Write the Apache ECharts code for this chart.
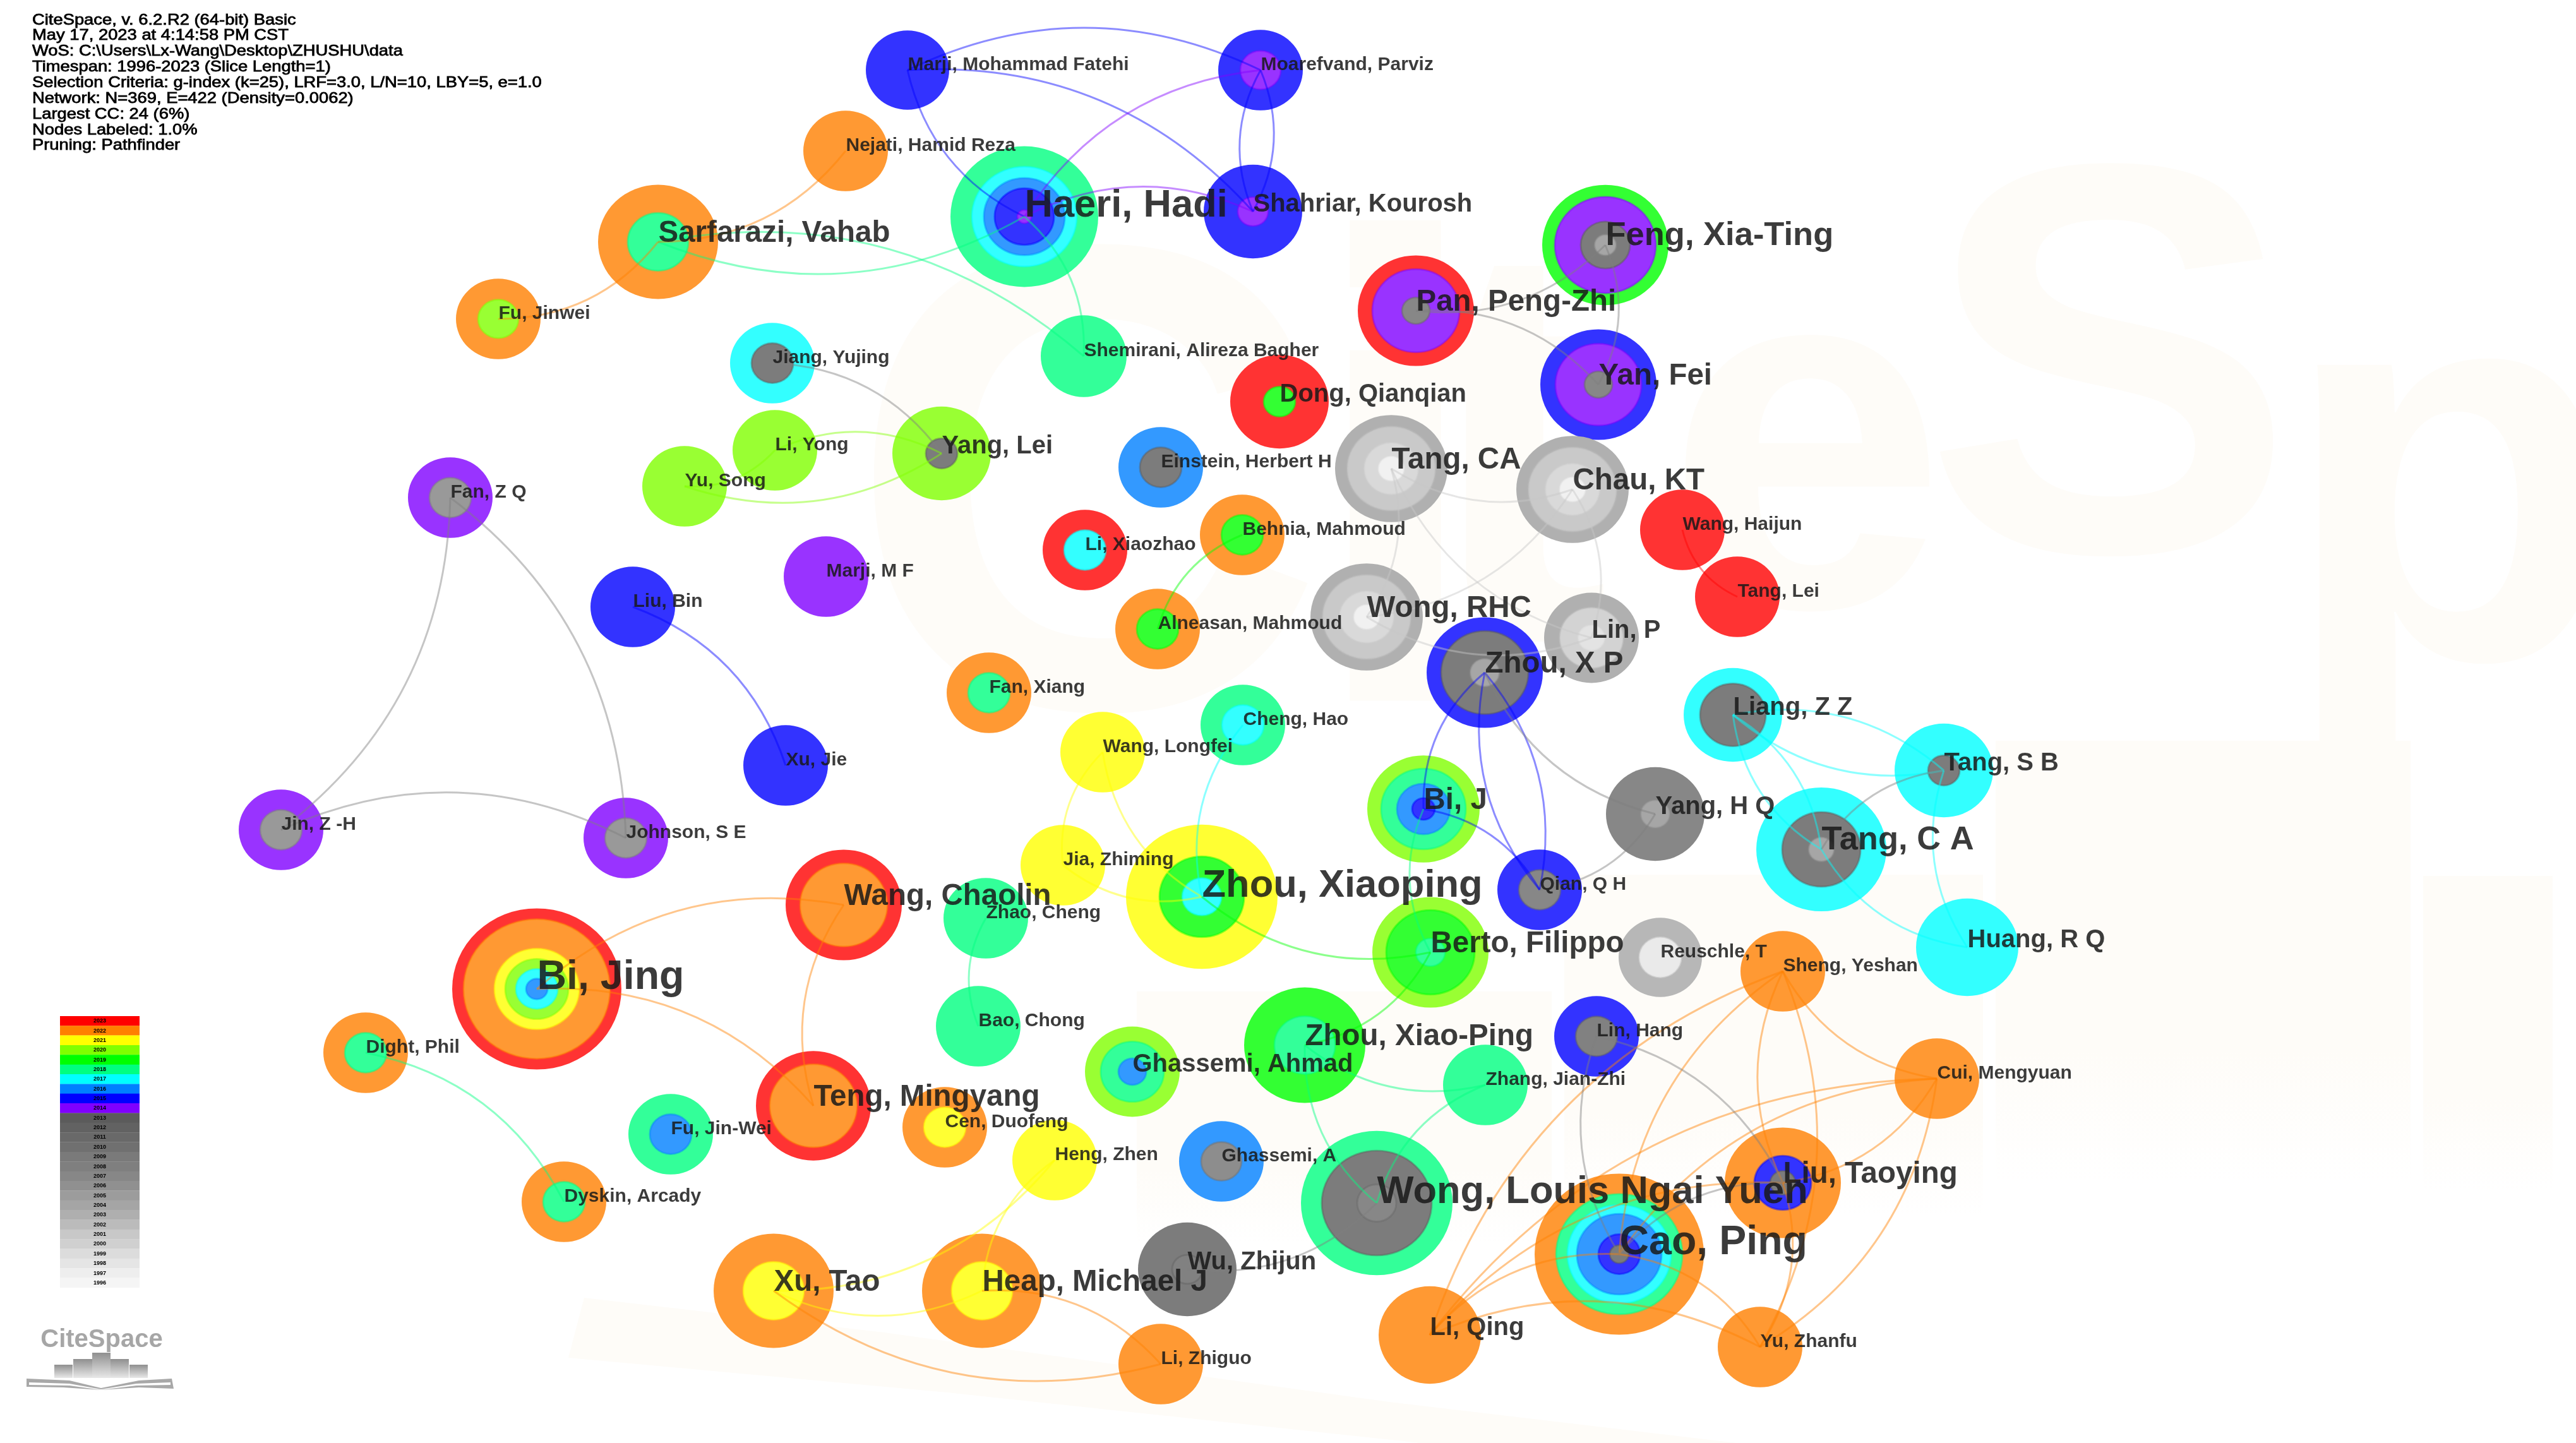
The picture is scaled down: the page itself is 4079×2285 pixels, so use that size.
<!DOCTYPE html>
<html>
<head>
<meta charset="utf-8">
<style>html,body{margin:0;padding:0;background:#fff}#c{width:4079px;height:2285px}</style>
<script src="https://cdn.jsdelivr.net/npm/echarts@6/dist/echarts.min.js"></script>
</head>
<body>
<div id="c"></div>
<script>
// ---------- legend ----------
const years = [2023,2022,2021,2020,2019,2018,2017,2016,2015,2014,2013,2012,2011,2010,2009,2008,2007,2006,2005,2004,2003,2002,2001,2000,1999,1998,1997,1996];
const yearColors = ['#ff0000','#ff8000','#ffff00','#80ff00','#00ff00','#00ff80','#00ffff','#0080ff','#0000ff','#8000ff','#5b5b5b','#626262','#696969','#707070','#7a7a7a','#7f7f7f','#878787','#909090','#9c9c9c','#a5a5a5','#afafaf','#bbbbbb','#c8c8c8','#d0d0d0','#dcdcdc','#e5e5e5','#eeeeee','#f5f5f5'];

// ---------- network: author, position on the map ----------
const authors = ['Fan, Z Q','Jin, Z -H','Johnson, S E','Liu, Bin','Xu, Jie','Marji, M F','Jiang, Yujing','Li, Yong','Yu, Song','Yang, Lei','Fu, Jinwei','Sarfarazi, Vahab','Nejati, Hamid Reza','Marji, Mohammad Fatehi','Moarefvand, Parviz','Shahriar, Kourosh','Haeri, Hadi','Shemirani, Alireza Bagher','Dong, Qianqian','Pan, Peng-Zhi','Feng, Xia-Ting','Yan, Fei','Einstein, Herbert H','Li, Xiaozhao','Behnia, Mahmoud','Alneasan, Mahmoud','Fan, Xiang','Tang, CA','Chau, KT','Wong, RHC','Lin, P','Wang, Haijun','Tang, Lei','Zhou, X P','Cheng, Hao','Wang, Longfei','Jia, Zhiming','Zhou, Xiaoping','Bi, J','Qian, Q H','Yang, H Q','Liang, Z Z','Tang, S B','Tang, C A','Huang, R Q','Berto, Filippo','Reuschle, T','Sheng, Yeshan','Zhao, Cheng','Bao, Chong','Wang, Chaolin','Bi, Jing','Dight, Phil','Teng, Mingyang','Fu, Jin-Wei','Dyskin, Arcady','Cen, Duofeng','Ghassemi, Ahmad','Zhou, Xiao-Ping','Zhang, Jian-Zhi','Lin, Hang','Cui, Mengyuan','Heng, Zhen','Ghassemi, A','Xu, Tao','Heap, Michael J','Li, Zhiguo','Wu, Zhijun','Wong, Louis Ngai Yuen','Liu, Taoying','Cao, Ping','Li, Qing','Yu, Zhanfu'];
const authorX = [713,445,991,1002,1244,1308,1223,1227,1084,1491,789,1042,1339,1437,1996,1984,1622,1716,2026,2242,2542,2531,1838,1718,1967,1833,1566,2203,2490,2164,2520,2664,2751,2351,1968,1746,1683,1903,2254,2438,2621,2744,3078,2884,3115,2265,2629,2823,1561,1549,1336,850,579,1288,1062,893,1496,1793,2066,2352,2528,3067,1670,1934,1225,1555,1838,1880,2180,2823,2564,2264,2787];
const authorY = [788,1314,1327,961,1212,913,575,713,770,718,505,383,239,111,111,335,343,564,636,492,388,609,740,871,847,996,1097,742,775,977,1010,839,945,1065,1148,1191,1370,1420,1281,1409,1289,1132,1220,1345,1500,1508,1516,1538,1454,1625,1433,1566,1667,1751,1796,1903,1785,1697,1655,1718,1641,1708,1837,1839,2044,2044,2160,2010,1905,1873,1986,2114,2133];

// ---------- tree rings: years active, outermost first ----------
const ringYears = [[2014,2008],[2014,2008],[2014,2008],[2015],[2015],[2014],[2017,2013],[2020],[2020],[2020,2013],[2022,2020],[2022,2018],[2022],[2015],[2015,2014],[2015,2014],[2018,2017,2016,2015,2014],[2018],[2023,2019],[2023,2014,2011],[2019,2014,2013,2006],[2015,2014,2011],[2016,2013],[2023,2017],[2022,2019],[2022,2019],[2022,2018],[2005,2002,2000,1997],[2005,2002,2000,1997],[2005,2002,2000,1997],[2005,2001,1999],[2023],[2023],[2015,2013,2006],[2018,2017],[2021],[2021],[2021,2019,2017],[2020,2018,2016,2015],[2015,2011],[2011,2006],[2017,2013],[2017,2013],[2017,2013,2006],[2017],[2020,2019,2018],[2004,1998],[2022],[2018],[2018],[2023,2022],[2023,2022,2021,2020,2017,2016],[2022,2018],[2023,2022],[2018,2016],[2022,2018],[2022,2021],[2020,2018,2016],[2019,2018],[2018],[2015,2012],[2022],[2021],[2016,2010],[2022,2021],[2022,2021],[2022],[2013,2012],[2018,2013,2011],[2022,2015,2013],[2022,2018,2017,2016,2015,2013],[2022],[2022]];
const ringRadii = [[67,33],[67,33],[67,33],[67],[67],[67],[67,33],[67],[67],[78,25],[67,32],[95,48],[67],[66],[67,32],[78,24],[117,83,64,47,11],[68],[78,25],[92,69,22],[100,80,39,17],[92,68,22],[67,33],[67,33],[67,33],[67,33],[67,33],[89,70,43,20],[89,70,43,20],[89,70,43,20],[75,50,21],[67],[67],[92,69,23],[67,33],[67],[67],[120,67,31],[89,67,42,18],[67,33],[78,23],[78,52],[78,25],[103,62,20],[81],[92,70,23],[66,33],[67],[67],[67],[92,69],[134,116,67,50,33,17],[67,33],[91,69],[67,33],[67,33],[67,33],[75,50,22],[96,48],[67],[67,33],[67],[67],[67,32],[95,48],[95,48],[67],[78,24],[120,87,31],[92,45,20],[134,100,82,67,33,15],[81],[67]];

// ---------- collaboration links: from, to, bend direction, year ----------
const links = [
['Marji, Mohammad Fatehi','Moarefvand, Parviz',1,2015],['Marji, Mohammad Fatehi','Shahriar, Kourosh',1,2015],['Marji, Mohammad Fatehi','Haeri, Hadi',-1,2015],
['Moarefvand, Parviz','Shahriar, Kourosh',1,2015],['Moarefvand, Parviz','Shahriar, Kourosh',-1,2015],['Haeri, Hadi','Moarefvand, Parviz',1,2014],['Haeri, Hadi','Shahriar, Kourosh',1,2014],
['Sarfarazi, Vahab','Haeri, Hadi',-1,2018],['Sarfarazi, Vahab','Shemirani, Alireza Bagher',1,2018],['Haeri, Hadi','Shemirani, Alireza Bagher',1,2018],
['Sarfarazi, Vahab','Nejati, Hamid Reza',-1,2022],['Fu, Jinwei','Sarfarazi, Vahab',-1,2022],
['Jiang, Yujing','Yang, Lei',1,2008],['Li, Yong','Yang, Lei',1,2020],['Yu, Song','Yang, Lei',-1,2020],['Yu, Song','Li, Yong',-1,2020],
['Fan, Z Q','Jin, Z -H',1,2008],['Fan, Z Q','Johnson, S E',1,2008],['Jin, Z -H','Johnson, S E',1,2008],['Liu, Bin','Xu, Jie',1,2015],
['Alneasan, Mahmoud','Behnia, Mahmoud',1,2019],
['Pan, Peng-Zhi','Feng, Xia-Ting',-1,2008],['Pan, Peng-Zhi','Yan, Fei',1,2008],['Feng, Xia-Ting','Yan, Fei',1,2008],
['Tang, CA','Chau, KT',-1,2001],['Tang, CA','Wong, RHC',1,2001],['Tang, CA','Lin, P',-1,2001],['Chau, KT','Lin, P',1,2001],['Wong, RHC','Chau, KT',-1,2001],['Wong, RHC','Lin, P',-1,2001],
['Zhou, X P','Bi, J',-1,2015],['Zhou, X P','Qian, Q H',1,2015],['Zhou, X P','Qian, Q H',-1,2015],['Bi, J','Qian, Q H',1,2015],['Zhou, X P','Yang, H Q',-1,2008],['Qian, Q H','Yang, H Q',-1,2008],
['Liang, Z Z','Tang, S B',1,2017],['Liang, Z Z','Tang, S B',-1,2017],['Liang, Z Z','Tang, C A',1,2017],['Liang, Z Z','Tang, C A',-1,2017],['Tang, C A','Tang, S B',1,2008],['Tang, C A','Huang, R Q',-1,2017],['Tang, S B','Huang, R Q',-1,2017],
['Wang, Haijun','Tang, Lei',-1,2023],
['Wang, Longfei','Jia, Zhiming',-1,2021],['Wang, Longfei','Zhou, Xiaoping',-1,2021],['Jia, Zhiming','Zhou, Xiaoping',-1,2021],['Cheng, Hao','Zhou, Xiaoping',-1,2017],['Zhou, Xiaoping','Berto, Filippo',-1,2019],['Bi, J','Berto, Filippo',-1,2018],['Zhou, Xiao-Ping','Berto, Filippo',-1,2019],
['Zhou, Xiao-Ping','Zhang, Jian-Zhi',-1,2018],['Zhou, Xiao-Ping','Wong, Louis Ngai Yuen',-1,2018],['Wong, Louis Ngai Yuen','Zhang, Jian-Zhi',1,2018],['Wu, Zhijun','Wong, Louis Ngai Yuen',-1,2008],
['Zhao, Cheng','Bao, Chong',-1,2018],['Bi, Jing','Wang, Chaolin',1,2022],['Bi, Jing','Teng, Mingyang',1,2022],['Wang, Chaolin','Teng, Mingyang',-1,2022],['Dight, Phil','Dyskin, Arcady',1,2018],
['Xu, Tao','Heng, Zhen',-1,2021],['Heap, Michael J','Heng, Zhen',1,2021],['Xu, Tao','Heap, Michael J',-1,2021],['Heap, Michael J','Li, Zhiguo',1,2022],['Xu, Tao','Li, Zhiguo',-1,2022],
['Li, Qing','Sheng, Yeshan',1,2022],['Cao, Ping','Sheng, Yeshan',1,2022],['Sheng, Yeshan','Liu, Taoying',-1,2022],['Sheng, Yeshan','Yu, Zhanfu',1,2022],['Sheng, Yeshan','Cui, Mengyuan',-1,2022],
['Li, Qing','Cui, Mengyuan',1,2022],['Cao, Ping','Cui, Mengyuan',1,2022],['Liu, Taoying','Cui, Mengyuan',-1,2022],['Yu, Zhanfu','Cui, Mengyuan',-1,2022],['Li, Qing','Liu, Taoying',1,2022],['Liu, Taoying','Yu, Zhanfu',1,2022],
['Li, Qing','Cao, Ping',1,2022],['Cao, Ping','Yu, Zhanfu',1,2022],['Li, Qing','Yu, Zhanfu',1,2022],['Cao, Ping','Liu, Taoying',1,2008],['Lin, Hang','Liu, Taoying',1,2008],['Lin, Hang','Cao, Ping',-1,2008]
];

const infoLines = ['CiteSpace, v. 6.2.R2 (64-bit) Basic','May 17, 2023 at 4:14:58 PM CST','WoS: C:\\Users\\Lx-Wang\\Desktop\\ZHUSHU\\data','Timespan: 1996-2023 (Slice Length=1)','Selection Criteria: g-index (k=25), LRF=3.0, L/N=10, LBY=5, e=1.0','Network: N=369, E=422 (Density=0.0062)','Largest CC: 24 (6%)','Nodes Labeled: 1.0%','Pruning: Pathfinder'];

// ---------- styling helpers ----------
const W = 4079, H = 2285, FONT = '"Liberation Sans", Arial, sans-serif';
const ASPECT = 1.05, NODE_ALPHA = 0.8, BEND = 0.24;
const hex = c => [1,3,5].map(i => parseInt(c.substr(i,2),16));
const yearColor = y => yearColors[years.indexOf(y)];
const nodeFill = y => { const [r,g,b] = hex(yearColor(y)).map(v => Math.round(v*NODE_ALPHA + 255*(1-NODE_ALPHA))); return `rgb(${r},${g},${b})`; };
const withAlpha = (y,a) => { const [r,g,b] = hex(yearColor(y)); return `rgba(${r},${g},${b},${a})`; };
const labelSize = r => r <= 70 ? 30 : r <= 82 ? 40 : r <= 96 ? 47.5 : r <= 105 ? 52.5 : r <= 125 ? 61.5 : 64.5;

const ringData = [];
authors.forEach((name,i) => ringYears[i].forEach((y,k) => {
  const r = ringRadii[i][k];
  ringData.push({ value:[authorX[i],authorY[i]], symbolSize:[2*r,2*r/ASPECT],
    itemStyle:{ opacity:1, color:nodeFill(y), borderColor: k ? withAlpha(y,0.45) : 'transparent', borderWidth: k ? 3 : 0 } });
}));
const labelData = authors.map((name,i) => {
  const fs = labelSize(ringRadii[i][0]);
  return { value:[authorX[i],authorY[i]], name,
    label:{ show:true, position:'right', distance:0, offset:[0,-0.27*fs], formatter:name, fontSize:fs, fontFamily:FONT, fontWeight:'bold', color:'rgba(25,25,25,0.85)' } };
});
const linkData = links.map(([a,b,s,y]) => {
  const i = authors.indexOf(a), j = authors.indexOf(b);
  return { coords:[[authorX[i],authorY[i]],[authorX[j],authorY[j]]], lineStyle:{ curveness:s*BEND, color:withAlpha(y,0.45), width:3, opacity:1 } };
});
const legendData = years.map((y,i) => ({ value:[158, 1609+(i+0.5)*15.36], symbolSize:[126,15.6], itemStyle:{color:yearColors[i], opacity:1},
  label:{ show:true, position:'inside', formatter:String(y), fontSize:9, fontFamily:FONT, fontWeight:'bold', color:'#000' } }));

// ---------- faint background logo + corner logo ----------
const WM = '#fefcf8';
const wmLetter = (t,x,y,fs) => ({ type:'text', z:0, silent:true, style:{ text:t, x, y, fontSize:fs, fontFamily:FONT, fontWeight:'bold', fill:WM, textAlign:'center', textVerticalAlign:'middle' } });
const wmRect = (x,y,w,h) => ({ type:'rect', z:0, silent:true, shape:{x,y,width:w,height:h}, style:{ fill:{ type:'linear',x:0,y:0,x2:0,y2:1, colorStops:[{offset:0,color:WM},{offset:0.7,color:WM},{offset:1,color:'#ffffff'}] } } });
const logoBar = (x,y,w) => ({ type:'rect', silent:true, shape:{x,y,width:w,height:2182-y}, style:{ fill:{ type:'linear',x:0,y:0,x2:0,y2:1, colorStops:[{offset:0,color:'#8f8f8f'},{offset:1,color:'#e8e8e8'}] } } });
const graphics = [
  wmLetter('C',1720,830,1050), wmLetter('i',2210,820,1050), wmLetter('t',2400,760,900), wmLetter('e',2860,740,800), wmLetter('S',3340,630,880), wmLetter('p',3880,800,880),
  wmRect(1800,1570,657,400), wmRect(2477,1385,663,540), wmRect(3160,1173,657,700), wmRect(3837,1387,205,500),
  { type:'polygon', z:0, silent:true, shape:{ points:[[925,2055],[1400,2110],[2200,2220],[2750,2285],[2250,2285],[1500,2205],[900,2150]] }, style:{ fill:WM } },
  ...infoLines.map((t,i) => ({ type:'text', silent:true, x:51, y:32+i*24.85, scaleX:1.14, style:{ text:t, x:0, y:0, fontSize:24, fontFamily:FONT, fill:'#000', stroke:'#000', lineWidth:0.8, textVerticalAlign:'middle' } })),
  { type:'text', silent:true, style:{ text:'CiteSpace', x:161, y:2122, fontSize:40, fontFamily:FONT, fontWeight:'bold', fill:'#a6a6a6', textAlign:'center', textVerticalAlign:'middle' } },
  logoBar(86,2161,29), logoBar(116,2152,30), logoBar(146,2142,29), logoBar(175,2152,29), logoBar(205,2161,29),
  { type:'polygon', silent:true, shape:{ points:[[42,2183],[110,2186],[160,2198],[220,2186],[272,2183],[275,2199],[220,2197],[160,2201],[100,2197],[42,2196]] }, style:{ fill:'#a8a8a8' } },
  { type:'polygon', silent:true, shape:{ points:[[46,2189],[110,2191],[160,2200],[216,2191],[270,2189],[270,2193],[216,2194],[160,2201],[110,2194],[46,2193]] }, style:{ fill:'#ffffff' } }
];

const chart = echarts.init(document.getElementById('c'), null, { renderer:'canvas', width:W, height:H });
chart.setOption({
  animation:false, backgroundColor:'#ffffff',
  grid:{ left:0, right:0, top:0, bottom:0 },
  xAxis:{ type:'value', min:0, max:W, show:false },
  yAxis:{ type:'value', min:0, max:H, inverse:true, show:false },
  graphic:{ elements:graphics },
  series:[
    { type:'scatter', name:'rings', symbol:'circle', data:ringData, z:3, silent:true, large:false, progressive:0 },
    { type:'lines', name:'links', coordinateSystem:'cartesian2d', data:linkData, z:4, silent:true, polyline:false, large:false, progressive:0 },
    { type:'scatter', name:'labels', symbol:'circle', symbolSize:1, itemStyle:{color:'transparent', opacity:1}, data:labelData, z:5, silent:true, progressive:0 },
    { type:'scatter', name:'legend', symbol:'rect', data:legendData, z:6, silent:true, progressive:0 }
  ]
});
</script>
</body>
</html>
